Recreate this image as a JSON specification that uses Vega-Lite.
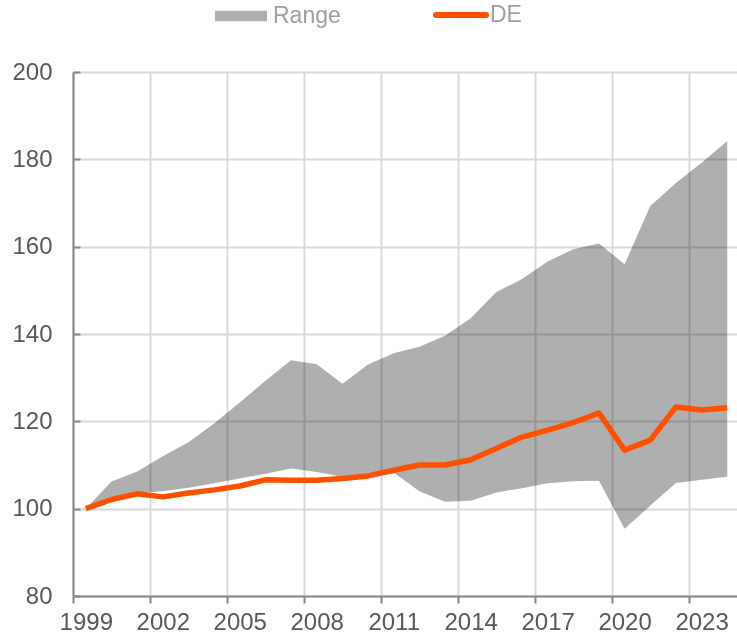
{
  "$schema": "https://vega.github.io/schema/vega-lite/v6.json",
  "width": 664,
  "height": 524,
  "autosize": {"type": "none"},
  "padding": {"left": 73, "top": 72, "right": 0, "bottom": 40},
  "background": "white",
  "config": {
    "view": {"stroke": null},
    "font": "Liberation Sans"
  },
  "data": {
    "values": [
      {"year": 1999, "lo": 100.0, "hi": 100.0, "de": 100.0},
      {"year": 2000, "lo": 102.2, "hi": 106.2, "de": 102.1},
      {"year": 2001, "lo": 103.6, "hi": 108.5, "de": 103.4},
      {"year": 2002, "lo": 104.0, "hi": 112.0, "de": 102.7},
      {"year": 2003, "lo": 104.8, "hi": 115.2, "de": 103.6},
      {"year": 2004, "lo": 105.8, "hi": 119.5, "de": 104.3},
      {"year": 2005, "lo": 106.9, "hi": 124.3, "de": 105.2},
      {"year": 2006, "lo": 108.0, "hi": 129.3, "de": 106.6},
      {"year": 2007, "lo": 109.2, "hi": 134.0, "de": 106.5},
      {"year": 2008, "lo": 108.4, "hi": 133.1, "de": 106.5},
      {"year": 2009, "lo": 107.3, "hi": 128.6, "de": 106.9},
      {"year": 2010, "lo": 107.6, "hi": 133.0, "de": 107.5},
      {"year": 2011, "lo": 108.3, "hi": 135.6, "de": 108.8},
      {"year": 2012, "lo": 104.0, "hi": 137.1, "de": 110.0},
      {"year": 2013, "lo": 101.6, "hi": 139.6, "de": 110.0},
      {"year": 2014, "lo": 101.8, "hi": 143.6, "de": 111.2},
      {"year": 2015, "lo": 103.7, "hi": 149.6, "de": 113.8},
      {"year": 2016, "lo": 104.7, "hi": 152.6, "de": 116.4},
      {"year": 2017, "lo": 105.8, "hi": 156.6, "de": 118.0},
      {"year": 2018, "lo": 106.3, "hi": 159.4, "de": 119.7},
      {"year": 2019, "lo": 106.4, "hi": 160.7, "de": 121.9},
      {"year": 2020, "lo": 95.4, "hi": 156.0, "de": 113.4},
      {"year": 2021, "lo": 100.7, "hi": 169.3, "de": 115.7},
      {"year": 2022, "lo": 105.9, "hi": 174.6, "de": 123.3},
      {"year": 2023, "lo": 106.6, "hi": 179.2, "de": 122.6},
      {"year": 2024, "lo": 107.3, "hi": 184.2, "de": 123.1}
    ]
  },
  "encoding": {
    "x": {
      "field": "year",
      "type": "quantitative",
      "scale": {"domain": [1998.5, 2024.38], "nice": false, "zero": false},
      "axis": {
        "title": null,
        "values": [1998.5, 2001.5, 2004.5, 2007.5, 2010.5, 2013.5, 2016.5, 2019.5, 2022.5],
        "labelExpr": "format(datum.value + 0.5, 'd')",
        "labelOffset": 12.8,
        "labelFont": "Liberation Sans",
        "labelFontSize": 24,
        "labelColor": "#595959",
        "labelPadding": 7,
        "labelFlush": false,
        "labelOverlap": false,
        "domainColor": "#868686",
        "domainWidth": 2,
        "tickColor": "#868686",
        "tickWidth": 2,
        "tickSize": 7,
        "grid": true,
        "gridColor": "#d9d9d9",
        "gridWidth": 2
      }
    }
  },
  "layer": [
    {
      "mark": {"type": "area", "blend": "multiply", "opacity": 1},
      "encoding": {
        "y": {
          "field": "hi",
          "type": "quantitative",
          "scale": {"domain": [80, 200], "nice": false, "zero": false},
          "axis": {
            "title": null,
            "values": [80, 100, 120, 140, 160, 180, 200],
            "labelFont": "Liberation Sans",
            "labelFontSize": 24,
            "labelColor": "#595959",
            "labelPadding": 28,
            "domainColor": "#868686",
            "domainWidth": 2,
            "tickColor": "#868686",
            "tickWidth": 2,
            "tickSize": -7,
            "grid": true,
            "gridColor": "#d9d9d9",
            "gridWidth": 2
          }
        },
        "y2": {"field": "lo"},
        "fill": {
          "datum": "Range",
          "type": "nominal",
          "scale": {"domain": ["Range"], "range": ["#afafaf"]},
          "legend": {
            "title": null,
            "orient": "none",
            "legendX": 142,
            "legendY": -82,
            "direction": "horizontal",
            "padding": 0,
            "symbolType": "M-1,-0.2H1V0.2H-1Z",
            "symbolSize": 2704,
            "symbolOpacity": 1,
            "symbolFillColor": "#a9a9a9",
            "symbolStrokeWidth": 0,
            "labelFont": "Liberation Sans",
            "labelFontSize": 23,
            "labelColor": "#a0a0a0",
            "labelOffset": 6
          }
        }
      }
    },
    {
      "mark": {"type": "line", "strokeWidth": 5.5, "strokeJoin": "round"},
      "encoding": {
        "y": {"field": "de", "type": "quantitative"},
        "stroke": {
          "datum": "DE",
          "type": "nominal",
          "scale": {"domain": ["DE"], "range": ["#ff5000"]},
          "legend": {
            "title": null,
            "orient": "none",
            "legendX": 360,
            "legendY": -85,
            "direction": "horizontal",
            "padding": 0,
            "symbolType": "stroke",
            "symbolSize": 2500,
            "symbolStrokeWidth": 6,
            "symbolOpacity": 1,
            "labelFont": "Liberation Sans",
            "labelFontSize": 23,
            "labelColor": "#a0a0a0",
            "labelOffset": 1,
            "encode": {
              "symbols": {
                "update": {
                  "strokeCap": {"value": "round"}
                }
              }
            }
          }
        }
      }
    }
  ]
}
